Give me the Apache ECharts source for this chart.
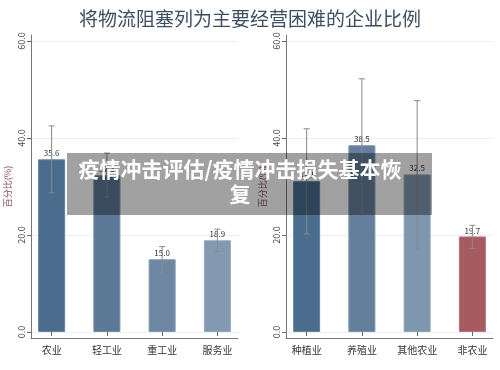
<!DOCTYPE html>
<html><head><meta charset="utf-8">
<script src="https://cdn.jsdelivr.net/npm/echarts@6/dist/echarts.min.js"></script>
<style>html,body{margin:0;padding:0;background:#fff}#c{width:500px;height:370px}</style>
</head><body><div id="c"></div>
<script>
var titleText = '将物流阻塞列为主要经营困难的企业比例';
var overlayText = '疫情冲击评估/疫情冲击损失基本恢复';
var yName = '百分比(%)';
var yTicks = [0, 20, 40, 60];
var leftCats = ['农业', '轻工业', '重工业', '服务业'];
var leftVals = [35.6, 32.3, 15.0, 18.9];
var leftLow = [28.7, 27.8, 12.2, 16.6];
var leftHigh = [42.5, 36.9, 17.6, 21.2];
var leftColors = ['#4a6c8d', '#5b7997', '#6e88a4', '#8299b1'];
var rightCats = ['种植业', '养殖业', '其他农业', '非农业'];
var rightVals = [31.1, 38.5, 32.5, 19.7];
var rightLow = [20.2, 24.6, 17.3, 17.2];
var rightHigh = [41.9, 52.2, 47.7, 22.0];
var rightColors = ['#4a6c8d', '#637f9c', '#7f97ae', '#a65b60'];

var chart = echarts.init(document.getElementById('c'));
var FONT = '"Noto Sans CJK SC", "Noto Sans", sans-serif';

function panel(idx, lineLeft, barLeft, cats, vals, lows, highs, colors) {
  var g0 = idx * 3;
  var grids = [
    {left: lineLeft, top: 41, width: 207, height: 291},
    {left: barLeft, top: 41, width: 221, height: 291},
    {left: lineLeft, top: 35, width: 207, height: 303}
  ];
  var xAxes = [
    {gridIndex: g0, type: 'value', show: false},
    {gridIndex: g0 + 1, type: 'category', data: cats, offset: 6,
      axisLine: {show: false},
      axisTick: {show: true, alignWithLabel: true, length: 4, lineStyle: {color: '#666'}},
      axisLabel: {fontSize: 10, color: '#333', margin: 7, fontFamily: FONT, interval: 0}},
    {gridIndex: g0 + 2, type: 'value', min: 0, max: 1,
      axisLine: {show: true, lineStyle: {color: '#777', width: 1}},
      axisTick: {show: false}, axisLabel: {show: false}, splitLine: {show: false}}
  ];
  var yAxes = [
    {gridIndex: g0, type: 'value', min: yTicks[0], max: yTicks[yTicks.length - 1], interval: 20,
      name: yName, nameLocation: 'middle', nameGap: 19, nameRotate: 90,
      nameTextStyle: {fontSize: 9, color: '#8a4f60', fontFamily: FONT},
      axisLine: {show: false},
      axisTick: {show: true, length: 4, lineStyle: {color: '#666'}},
      axisLabel: {rotate: 90, fontSize: 9, color: '#444', margin: 5,
        formatter: function (v) { return v.toFixed(1); }},
      splitLine: {show: true, lineStyle: {color: '#eaf0f1', width: 1}}},
    {gridIndex: g0 + 1, type: 'value', min: yTicks[0], max: yTicks[yTicks.length - 1], show: false},
    {gridIndex: g0 + 2, type: 'value', min: 0, max: 1,
      axisLine: {show: true, lineStyle: {color: '#777', width: 1}},
      axisTick: {show: false}, axisLabel: {show: false}, splitLine: {show: false}}
  ];
  var barData = vals.map(function (v, i) {
    return {value: v, itemStyle: {color: colors[i], borderColor: echarts.color.lift(colors[i], 0.15), borderWidth: 1}};
  });
  var series = [
    {type: 'bar', xAxisIndex: g0 + 1, yAxisIndex: g0 + 1, data: barData, barWidth: 27,
      label: {show: true, position: 'top', distance: 2, fontSize: 8, color: '#333',
        formatter: function (p) { return p.value.toFixed(1); }}},
    {type: 'custom', xAxisIndex: g0 + 1, yAxisIndex: g0 + 1,
      data: lows.map(function (l, i) { return [i, l, highs[i]]; }),
      renderItem: function (params, api) {
        var lo = api.coord([api.value(0), api.value(1)]);
        var hi = api.coord([api.value(0), api.value(2)]);
        var w = 3;
        var st = {stroke: '#8a8a8a', lineWidth: 1};
        return {type: 'group', children: [
          {type: 'line', shape: {x1: hi[0], y1: hi[1], x2: lo[0], y2: lo[1]}, style: st},
          {type: 'line', shape: {x1: hi[0] - w, y1: hi[1], x2: hi[0] + w, y2: hi[1]}, style: st},
          {type: 'line', shape: {x1: lo[0] - w, y1: lo[1], x2: lo[0] + w, y2: lo[1]}, style: st}
        ]};
      }, z: 5}
  ];
  return {grids: grids, xAxes: xAxes, yAxes: yAxes, series: series};
}

var L = panel(0, 31, 24, leftCats, leftVals, leftLow, leftHigh, leftColors);
var R = panel(1, 286, 279, rightCats, rightVals, rightLow, rightHigh, rightColors);

chart.setOption({
  animation: false,
  textStyle: {fontFamily: FONT},
  title: {text: titleText, left: 'center', top: 4,
    textStyle: {fontSize: 19, fontWeight: 'normal', color: '#3d4e62', fontFamily: FONT}},
  grid: L.grids.concat(R.grids),
  xAxis: L.xAxes.concat(R.xAxes),
  yAxis: L.yAxes.concat(R.yAxes),
  series: L.series.concat(R.series),
  graphic: [
    {type: 'rect', shape: {x: 67, y: 153, width: 365, height: 62}, style: {fill: 'rgba(0,0,0,0.37)'}, z: 100},
    {type: 'text', x: 240, y: 182, z: 101,
      style: {text: overlayText, width: 340, overflow: 'break', fill: '#fff', fontSize: 21, fontWeight: 'bold',
        fontFamily: FONT, align: 'center', verticalAlign: 'middle', lineHeight: 25}}
  ]
});
</script></body></html>
